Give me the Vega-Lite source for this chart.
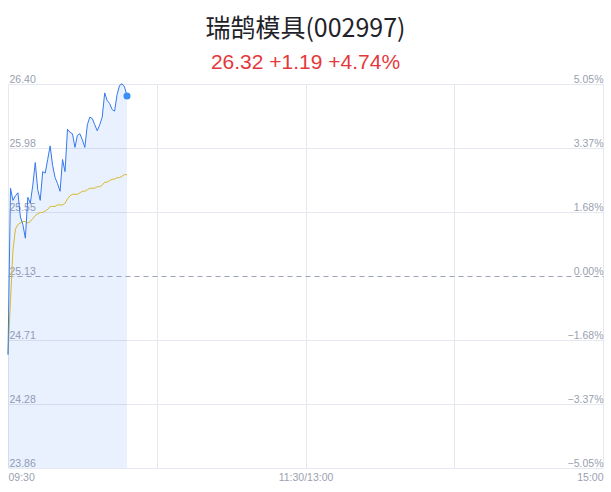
{
  "$schema": "https://vega.github.io/schema/vega-lite/v6.json",
  "width": 595,
  "height": 384,
  "autosize": {"type": "none"},
  "padding": {"left": 8, "top": 84, "right": 8, "bottom": 24},
  "background": "white",
  "title": {
    "text": "瑞鹄模具(002997)",
    "subtitle": "26.32 +1.19 +4.74%",
    "anchor": "middle",
    "frame": "group",
    "font": "Noto Sans CJK SC",
    "fontSize": 25,
    "fontWeight": "normal",
    "color": "#1f2329",
    "subtitleFont": "Liberation Sans",
    "subtitleFontSize": 21,
    "subtitleColor": "#e4393c",
    "subtitlePadding": 10,
    "offset": 1
  },
  "config": {
    "view": {"stroke": null},
    "axis": {
      "domain": false,
      "ticks": false,
      "tickSize": 0,
      "labelFont": "Liberation Sans",
      "labelFontSize": 10.5,
      "labelColor": "#9a9fb0",
      "gridColor": "#e6e8ef",
      "gridWidth": 1
    }
  },
  "data": {
    "values": [
      {"t": 0, "price": 24.61, "avg": 24.61},
      {"t": 1, "price": 25.71, "avg": 24.97},
      {"t": 2, "price": 25.63, "avg": 25.30},
      {"t": 3, "price": 25.66, "avg": 25.44},
      {"t": 4, "price": 25.68, "avg": 25.47},
      {"t": 5, "price": 25.52, "avg": 25.48},
      {"t": 6, "price": 25.47, "avg": 25.49},
      {"t": 7, "price": 25.38, "avg": 25.49},
      {"t": 8, "price": 25.65, "avg": 25.48},
      {"t": 9, "price": 25.61, "avg": 25.49},
      {"t": 10, "price": 25.73, "avg": 25.51},
      {"t": 11, "price": 25.88, "avg": 25.53},
      {"t": 12, "price": 25.70, "avg": 25.54},
      {"t": 13, "price": 25.63, "avg": 25.55},
      {"t": 14, "price": 25.82, "avg": 25.55},
      {"t": 15, "price": 25.81, "avg": 25.56},
      {"t": 16, "price": 25.90, "avg": 25.57},
      {"t": 17, "price": 25.99, "avg": 25.59},
      {"t": 18, "price": 25.86, "avg": 25.59},
      {"t": 19, "price": 25.78, "avg": 25.59},
      {"t": 20, "price": 25.74, "avg": 25.60},
      {"t": 21, "price": 25.69, "avg": 25.60},
      {"t": 22, "price": 25.90, "avg": 25.60},
      {"t": 23, "price": 25.82, "avg": 25.61},
      {"t": 24, "price": 26.10, "avg": 25.64},
      {"t": 25, "price": 26.08, "avg": 25.66},
      {"t": 26, "price": 26.07, "avg": 25.67},
      {"t": 27, "price": 25.98, "avg": 25.67},
      {"t": 28, "price": 26.06, "avg": 25.67},
      {"t": 29, "price": 26.07, "avg": 25.68},
      {"t": 30, "price": 26.03, "avg": 25.69},
      {"t": 31, "price": 25.98, "avg": 25.69},
      {"t": 32, "price": 26.13, "avg": 25.70},
      {"t": 33, "price": 26.18, "avg": 25.71},
      {"t": 34, "price": 26.17, "avg": 25.71},
      {"t": 35, "price": 26.13, "avg": 25.71},
      {"t": 36, "price": 26.09, "avg": 25.72},
      {"t": 37, "price": 26.13, "avg": 25.72},
      {"t": 38, "price": 26.18, "avg": 25.73},
      {"t": 39, "price": 26.34, "avg": 25.75},
      {"t": 40, "price": 26.29, "avg": 25.75},
      {"t": 41, "price": 26.27, "avg": 25.76},
      {"t": 42, "price": 26.23, "avg": 25.77},
      {"t": 43, "price": 26.22, "avg": 25.77},
      {"t": 44, "price": 26.33, "avg": 25.78},
      {"t": 45, "price": 26.39, "avg": 25.78},
      {"t": 46, "price": 26.40, "avg": 25.79},
      {"t": 47, "price": 26.38, "avg": 25.80},
      {"t": 48, "price": 26.32, "avg": 25.80}
    ]
  },
  "resolve": {"axis": {"y": "independent"}},
  "layer": [
    {
      "mark": {"type": "area", "color": "#3478f6", "fillOpacity": 0.1},
      "encoding": {
        "x": {
          "field": "t",
          "type": "quantitative",
          "scale": {"domain": [0, 240], "nice": false, "zero": false},
          "axis": {
            "orient": "bottom",
            "title": null,
            "values": [0, 60, 120, 180, 240],
            "labelExpr": "datum.value == 0 ? '09:30' : datum.value == 120 ? '11:30/13:00' : datum.value == 240 ? '15:00' : ''",
            "labelFlush": true,
            "labelPadding": 4,
            "grid": true
          }
        },
        "y": {
          "field": "price",
          "type": "quantitative",
          "scale": {"domain": [23.861, 26.399], "nice": false, "zero": false},
          "axis": {
            "orient": "left",
            "title": null,
            "values": [23.861, 24.284, 24.707, 25.13, 25.553, 25.976, 26.399],
            "format": ".2f",
            "labelAlign": "left",
            "labelBaseline": "bottom",
            "labelFlush": true,
            "labelPadding": -1,
            "grid": true,
            "gridColor": {"condition": {"test": "abs(datum.value - 25.13) < 0.001", "value": "#9aa3bb"}, "value": "#e6e8ef"},
            "gridDash": {"condition": {"test": "abs(datum.value - 25.13) < 0.001", "value": [5, 4]}, "value": []}
          }
        },
        "y2": {"datum": 23.861}
      }
    },
    {
      "mark": {"type": "line", "color": "#d6b92c", "strokeWidth": 1},
      "encoding": {
        "x": {"field": "t", "type": "quantitative"},
        "y": {"field": "avg", "type": "quantitative", "axis": null}
      }
    },
    {
      "mark": {"type": "line", "color": "#3479ee", "strokeWidth": 1},
      "encoding": {
        "x": {"field": "t", "type": "quantitative"},
        "y": {
          "field": "price",
          "type": "quantitative",
          "axis": {
            "orient": "right",
            "title": null,
            "values": [23.861, 24.284, 24.707, 25.13, 25.553, 25.976, 26.399],
            "labelExpr": "format((datum.value - 25.13) / 25.13 * 100, '.2f') + '%'",
            "labelAlign": "right",
            "labelBaseline": "bottom",
            "labelFlush": true,
            "labelPadding": 0,
            "grid": false
          }
        }
      }
    },
    {
      "transform": [{"filter": "datum.t == 48"}],
      "mark": {"type": "point", "filled": true, "color": "#3a8ef6", "opacity": 1, "size": 50},
      "encoding": {
        "x": {"field": "t", "type": "quantitative"},
        "y": {"field": "price", "type": "quantitative", "axis": null}
      }
    }
  ]
}
